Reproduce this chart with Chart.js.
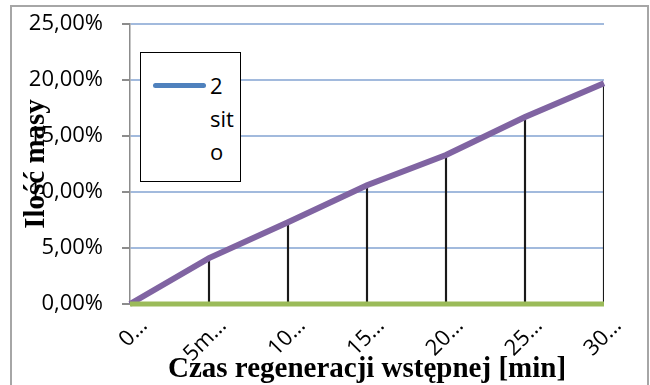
<!DOCTYPE html>
<html>
<head>
<meta charset="utf-8">
<script src="https://cdn.jsdelivr.net/npm/chart.js@4"></script>
<style>
  body { margin: 0; background: #fff; }
  #wrap { position: relative; width: 650px; height: 385px; overflow: hidden; }
  #frame { position: absolute; left: 10px; top: 5px; width: 635px; height: 400px; border: 2px solid #a6a6a6; }
  #legend { position: absolute; left: 140px; top: 52px; width: 99px; height: 128px; border: 1.5px solid #000; background: #fff;
            font-family: 'Open Sans', sans-serif; font-size: 22px; color: #000; }
  #legend .line { position: absolute; left: 12px; top: 30px; width: 53px; height: 5px; border-radius: 3px; background: #4f81bd; }
  #legend .txt { position: absolute; left: 69px; top: 16px; line-height: 33px; }
</style>
</head>
<body>
<div id="wrap">
  <div id="frame"></div>
  <canvas id="chart"></canvas>
  <div id="legend"><div class="line"></div><div class="txt">2<br>sit<br>o</div></div>
</div>
<script>
const categories = ["0…", "5m…", "10…", "15…", "20…", "25…", "30…"];
const purpleValues = [0, 4.1, 7.3, 10.6, 13.3, 16.7, 19.7];
const greenValues = [0, 0, 0, 0, 0, 0, 0];
const yTicks = [0, 5, 10, 15, 20, 25];

const titleFont = { family: 'Liberation Serif', size: 29, weight: 'bold', lineHeight: 1 };
const tickFont = { family: 'Open Sans', size: 22 };

new Chart(document.getElementById('chart'), {
  type: 'line',
  data: {
    labels: categories,
    datasets: [
      { type: 'line', label: 'green', data: greenValues, borderColor: '#9bbb59', borderWidth: 5,
        pointRadius: 0, order: 1, clip: 6 },
      { type: 'line', label: 'purple', data: purpleValues, borderColor: '#8064a2', borderWidth: 6,
        pointRadius: 0, order: 2, clip: 6 },
      { type: 'bar', label: 'drop', data: purpleValues, backgroundColor: '#1a1a1a', barThickness: 1.5,
        order: 3 }
    ]
  },
  options: {
    responsive: true,
    maintainAspectRatio: false,
    animation: false,
    layout: { padding: { left: 10, right: 46, top: 24, bottom: 0 } },
    plugins: { legend: { display: false }, tooltip: { enabled: false } },
    scales: {
      x: {
        offset: false,
        grid: { display: false, offset: false },
        border: { display: false },
        ticks: { font: tickFont, color: '#000', maxRotation: 45, minRotation: 45, padding: 1, labelOffset: 14 },
        title: { display: true, text: 'Czas regeneracji wstępnej [min]', font: titleFont, color: '#000',
                 padding: { top: 0, bottom: 1 } },
        afterFit: s => { s.height = 81; }
      },
      y: {
        min: 0, max: 25,
        afterBuildTicks: s => { s.ticks = yTicks.map(v => ({ value: v })); },
        grid: { color: '#a2badd', lineWidth: 2, tickColor: '#8c8c8c', tickLength: 8 },
        border: { color: '#8c8c8c', width: 1.5 },
        ticks: { font: tickFont, color: '#000', padding: 19,
                 callback: v => v.toFixed(2).replace('.', ',') + '%' },
        title: { display: true, text: 'Ilość masy', font: titleFont, color: '#000',
                 padding: { top: 12, bottom: 0 } },
        afterFit: s => { s.width = 120; s.paddingTop = 0; s.paddingBottom = 0; }
      }
    }
  }
});
</script>
</body>
</html>
